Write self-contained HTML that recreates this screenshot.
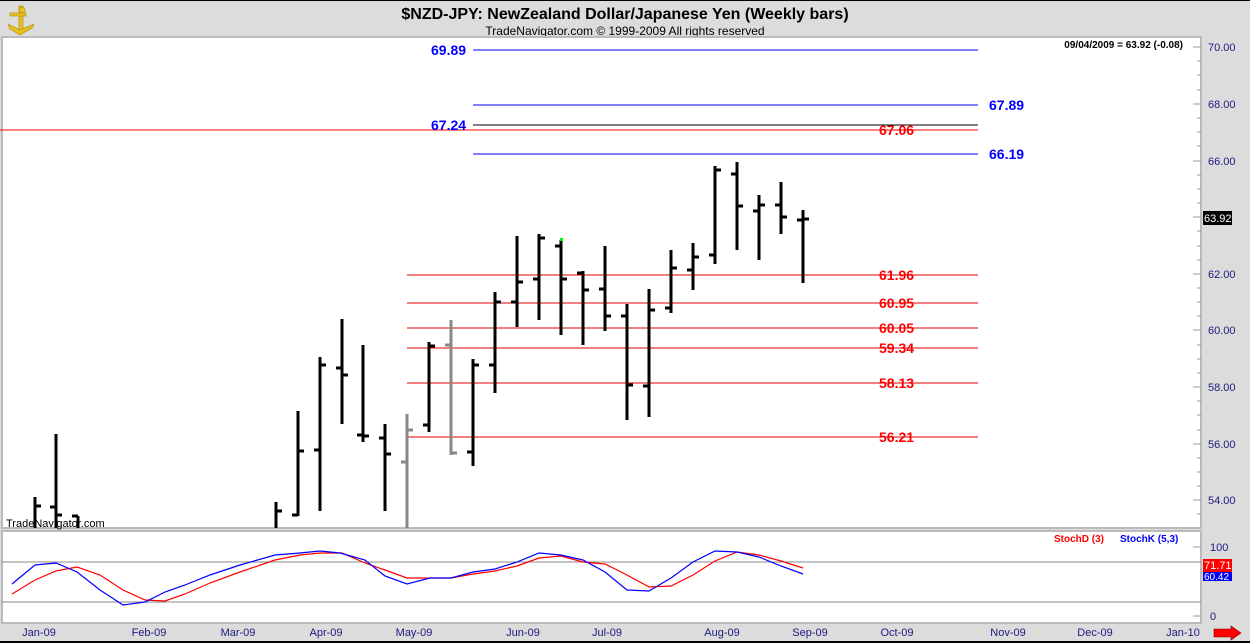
<!DOCTYPE html>
<html><head><meta charset="utf-8"><style>
html,body{margin:0;padding:0;background:#dcdcdc;}
svg{display:block;font-family:"Liberation Sans",Arial,sans-serif;}
</style></head><body>
<svg width="1250" height="643" viewBox="0 0 1250 643" xmlns="http://www.w3.org/2000/svg">
<rect x="0" y="0" width="1250" height="643" fill="#dcdcdc"/>
<rect x="0" y="0" width="1250" height="1" fill="#000"/>
<g fill="#e8c020" stroke="#b08a00" stroke-width="0.6">
<rect x="19" y="6" width="4" height="24"/>
<rect x="10" y="13" width="16" height="3"/>
<path d="M8 24 L20 30 L34 24 L32 28 L20 35 L10 29 Z"/>
<circle cx="22" cy="10" r="3"/>
</g>
<text x="625" y="19" text-anchor="middle" font-size="16" font-weight="bold" fill="#000">$NZD-JPY:  NewZealand Dollar/Japanese Yen  (Weekly bars)</text>
<text x="625" y="35" text-anchor="middle" font-size="12" fill="#000">TradeNavigator.com © 1999-2009 All rights reserved</text>
<rect x="2" y="37" width="1199" height="491" fill="#fff" stroke="#bbb" stroke-width="2"/>
<rect x="2" y="531" width="1199" height="92" fill="#fff" stroke="#bbb" stroke-width="2"/>
<text x="1183" y="48" text-anchor="end" font-size="10" font-weight="bold" fill="#000">09/04/2009 = 63.92 (-0.08)</text>
<g font-size="11" fill="#1a1a80">
<text x="1208" y="51">70.00</text><text x="1208" y="108">68.00</text><text x="1208" y="165">66.00</text>
<text x="1208" y="278">62.00</text><text x="1208" y="334">60.00</text><text x="1208" y="391">58.00</text>
<text x="1208" y="448">56.00</text><text x="1208" y="504">54.00</text>
<text x="1210" y="551">100</text><text x="1210" y="620">0</text>
</g>
<g stroke="#999" stroke-width="1" shape-rendering="crispEdges">
<line x1="1193" y1="47" x2="1201" y2="47"/><line x1="1197" y1="61" x2="1201" y2="61"/><line x1="1197" y1="75" x2="1201" y2="75"/><line x1="1197" y1="90" x2="1201" y2="90"/>
<line x1="1193" y1="104" x2="1201" y2="104"/><line x1="1197" y1="118" x2="1201" y2="118"/><line x1="1197" y1="132" x2="1201" y2="132"/><line x1="1197" y1="146" x2="1201" y2="146"/>
<line x1="1193" y1="161" x2="1201" y2="161"/><line x1="1197" y1="175" x2="1201" y2="175"/><line x1="1197" y1="189" x2="1201" y2="189"/><line x1="1197" y1="203" x2="1201" y2="203"/>
<line x1="1193" y1="217" x2="1201" y2="217"/><line x1="1197" y1="231" x2="1201" y2="231"/><line x1="1197" y1="246" x2="1201" y2="246"/><line x1="1197" y1="260" x2="1201" y2="260"/>
<line x1="1193" y1="274" x2="1201" y2="274"/><line x1="1197" y1="288" x2="1201" y2="288"/><line x1="1197" y1="302" x2="1201" y2="302"/><line x1="1197" y1="316" x2="1201" y2="316"/>
<line x1="1193" y1="330" x2="1201" y2="330"/><line x1="1197" y1="345" x2="1201" y2="345"/><line x1="1197" y1="359" x2="1201" y2="359"/><line x1="1197" y1="373" x2="1201" y2="373"/>
<line x1="1193" y1="387" x2="1201" y2="387"/><line x1="1197" y1="401" x2="1201" y2="401"/><line x1="1197" y1="415" x2="1201" y2="415"/><line x1="1197" y1="430" x2="1201" y2="430"/>
<line x1="1193" y1="444" x2="1201" y2="444"/><line x1="1197" y1="458" x2="1201" y2="458"/><line x1="1197" y1="472" x2="1201" y2="472"/><line x1="1197" y1="486" x2="1201" y2="486"/>
<line x1="1193" y1="500" x2="1201" y2="500"/><line x1="1197" y1="514" x2="1201" y2="514"/>
<line x1="1193" y1="547" x2="1201" y2="547"/><line x1="1193" y1="616" x2="1201" y2="616"/>
</g>
<rect x="1203" y="211" width="29" height="14" fill="#000"/>
<text x="1204" y="222" font-size="11" fill="#fff">63.92</text>
<g stroke-width="1" shape-rendering="crispEdges">
<line x1="473" y1="50" x2="978" y2="50" stroke="#0000ff"/>
<line x1="473" y1="105" x2="978" y2="105" stroke="#0000ff"/>
<line x1="473" y1="125" x2="978" y2="125" stroke="#000"/>
<line x1="0" y1="130" x2="978" y2="130" stroke="#ff0000"/>
<line x1="473" y1="154" x2="978" y2="154" stroke="#0000ff"/>
<line x1="407" y1="275" x2="978" y2="275" stroke="#e00000"/>
<line x1="407" y1="303" x2="978" y2="303" stroke="#e00000"/>
<line x1="407" y1="328" x2="978" y2="328" stroke="#e00000"/>
<line x1="407" y1="348" x2="978" y2="348" stroke="#e00000"/>
<line x1="407" y1="383" x2="978" y2="383" stroke="#e00000"/>
<line x1="407" y1="437" x2="978" y2="437" stroke="#e00000"/>
</g>
<g font-size="14" font-weight="bold">
<text x="431" y="55" fill="#0000ff">69.89</text>
<text x="989" y="110" fill="#0000ff">67.89</text>
<text x="431" y="130" fill="#0000ff">67.24</text>
<text x="879" y="135" fill="#ff0000">67.06</text>
<text x="989" y="159" fill="#0000ff">66.19</text>
<g fill="#ff0000">
<text x="879" y="280">61.96</text><text x="879" y="308">60.95</text><text x="879" y="333">60.05</text>
<text x="879" y="353">59.34</text><text x="879" y="388">58.13</text><text x="879" y="442">56.21</text>
</g>
</g>
<g stroke="#000" stroke-width="3" shape-rendering="crispEdges">
<line x1="35" y1="497" x2="35" y2="528"/><line x1="35" y1="506" x2="41" y2="506"/>
<line x1="56" y1="434" x2="56" y2="528"/><line x1="50" y1="507" x2="56" y2="507"/><line x1="56" y1="515" x2="62" y2="515"/>
<line x1="78" y1="516" x2="78" y2="528"/><line x1="72" y1="516" x2="78" y2="516"/>
<line x1="276" y1="502" x2="276" y2="528"/><line x1="276" y1="511" x2="282" y2="511"/>
<line x1="298" y1="411" x2="298" y2="516"/><line x1="292" y1="515" x2="298" y2="515"/><line x1="298" y1="451" x2="304" y2="451"/>
<line x1="320" y1="357" x2="320" y2="511"/><line x1="314" y1="450" x2="320" y2="450"/><line x1="320" y1="365" x2="326" y2="365"/>
<line x1="342" y1="319" x2="342" y2="424"/><line x1="336" y1="368" x2="342" y2="368"/><line x1="342" y1="375" x2="348" y2="375"/>
<line x1="363" y1="345" x2="363" y2="442"/><line x1="357" y1="435" x2="363" y2="435"/><line x1="363" y1="436" x2="369" y2="436"/>
<line x1="385" y1="424" x2="385" y2="511"/><line x1="379" y1="438" x2="385" y2="438"/><line x1="385" y1="454" x2="391" y2="454"/>
<g stroke="#888"><line x1="407" y1="414" x2="407" y2="528"/><line x1="401" y1="462" x2="407" y2="462"/><line x1="407" y1="430" x2="413" y2="430"/></g>
<line x1="429" y1="342" x2="429" y2="432"/><line x1="423" y1="425" x2="429" y2="425"/><line x1="429" y1="346" x2="435" y2="346"/>
<g stroke="#888"><line x1="451" y1="320" x2="451" y2="455"/><line x1="445" y1="345" x2="451" y2="345"/><line x1="451" y1="453" x2="457" y2="453"/></g>
<line x1="473" y1="359" x2="473" y2="466"/><line x1="467" y1="452" x2="473" y2="452"/><line x1="473" y1="365" x2="479" y2="365"/>
<line x1="495" y1="292" x2="495" y2="393"/><line x1="489" y1="365" x2="495" y2="365"/><line x1="495" y1="302" x2="501" y2="302"/>
<line x1="517" y1="236" x2="517" y2="327"/><line x1="511" y1="302" x2="517" y2="302"/><line x1="517" y1="282" x2="523" y2="282"/>
<line x1="539" y1="234" x2="539" y2="320"/><line x1="533" y1="279" x2="539" y2="279"/><line x1="539" y1="238" x2="545" y2="238"/>
<line x1="561" y1="240" x2="561" y2="335"/><line x1="555" y1="246" x2="561" y2="246"/><line x1="561" y1="279" x2="567" y2="279"/>
<line x1="583" y1="271" x2="583" y2="345"/><line x1="577" y1="273" x2="583" y2="273"/><line x1="583" y1="290" x2="589" y2="290"/>
<line x1="605" y1="246" x2="605" y2="331"/><line x1="599" y1="289" x2="605" y2="289"/><line x1="605" y1="316" x2="611" y2="316"/>
<line x1="627" y1="304" x2="627" y2="420"/><line x1="621" y1="316" x2="627" y2="316"/><line x1="627" y1="385" x2="633" y2="385"/>
<line x1="649" y1="289" x2="649" y2="417"/><line x1="643" y1="386" x2="649" y2="386"/><line x1="649" y1="310" x2="655" y2="310"/>
<line x1="671" y1="250" x2="671" y2="313"/><line x1="665" y1="308" x2="671" y2="308"/><line x1="671" y1="268" x2="677" y2="268"/>
<line x1="693" y1="243" x2="693" y2="290"/><line x1="687" y1="270" x2="693" y2="270"/><line x1="693" y1="257" x2="699" y2="257"/>
<line x1="715" y1="166" x2="715" y2="264"/><line x1="709" y1="255" x2="715" y2="255"/><line x1="715" y1="170" x2="721" y2="170"/>
<line x1="737" y1="162" x2="737" y2="250"/><line x1="731" y1="174" x2="737" y2="174"/><line x1="737" y1="206" x2="743" y2="206"/>
<line x1="759" y1="195" x2="759" y2="260"/><line x1="753" y1="211" x2="759" y2="211"/><line x1="759" y1="205" x2="765" y2="205"/>
<line x1="781" y1="182" x2="781" y2="234"/><line x1="775" y1="205" x2="781" y2="205"/><line x1="781" y1="217" x2="787" y2="217"/>
<line x1="803" y1="210" x2="803" y2="283"/><line x1="797" y1="220" x2="803" y2="220"/><line x1="803" y1="219" x2="809" y2="219"/>
</g>
<rect x="560" y="238" width="3" height="3" fill="#00ff00"/>
<text x="6" y="527" font-size="11" fill="#000">TradeNavigator.com</text>
<line x1="2" y1="562" x2="1201" y2="562" stroke="#888" shape-rendering="crispEdges"/>
<line x1="2" y1="602" x2="1201" y2="602" stroke="#888" shape-rendering="crispEdges"/>
<text x="1054" y="542" font-size="10" font-weight="bold" fill="#ff0000">StochD (3)</text>
<text x="1120" y="542" font-size="10" font-weight="bold" fill="#0000ff">StochK (5,3)</text>
<polyline fill="none" stroke="#ff0000" stroke-width="1.2" points="12,594 35,580 56,571 77,567 100,575 123,590 145,600 165,601 185,594 210,583 240,572 275,560 300,555 320,553 342,553 365,563 385,570 407,578 430,578 451,578 473,574 495,571 517,566 539,558 561,556 583,562 605,564 627,575 649,587 671,586 693,575 715,561 737,552 759,555 781,561 803,568"/>
<polyline fill="none" stroke="#0000ff" stroke-width="1.2" points="12,584 35,565 56,563 77,572 100,590 123,605 145,602 165,592 185,585 210,575 240,565 275,555 300,553 320,551 340,553 365,560 385,576 407,584 430,578 451,578 473,572 495,569 517,562 539,553 561,555 583,560 605,572 627,590 649,591 671,578 693,562 715,551 737,552 759,557 781,566 803,574"/>
<rect x="1203" y="559" width="29" height="13" fill="#ff0000"/>
<rect x="1203" y="572" width="29" height="9" fill="#0000ff"/>
<text x="1204" y="569" font-size="11" fill="#fff">71.71</text>
<text x="1204" y="580" font-size="10" fill="#fff">60.42</text>
<g font-size="11" fill="#1a1a80" text-anchor="middle">
<text x="39" y="636">Jan-09</text><text x="149" y="636">Feb-09</text><text x="238" y="636">Mar-09</text>
<text x="326" y="636">Apr-09</text><text x="414" y="636">May-09</text><text x="523" y="636">Jun-09</text>
<text x="607" y="636">Jul-09</text><text x="722" y="636">Aug-09</text><text x="810" y="636">Sep-09</text>
<text x="897" y="636">Oct-09</text><text x="1008" y="636">Nov-09</text><text x="1095" y="636">Dec-09</text>
<text x="1183" y="636">Jan-10</text>
</g>
<path d="M1214 629 L1231 629 L1231 626 L1241 633 L1231 640 L1231 637 L1214 637 Z" fill="#ff0000" stroke="#800" stroke-width="0.6"/>
<rect x="0" y="641" width="1250" height="2" fill="#000"/>
</svg>
</body></html>
